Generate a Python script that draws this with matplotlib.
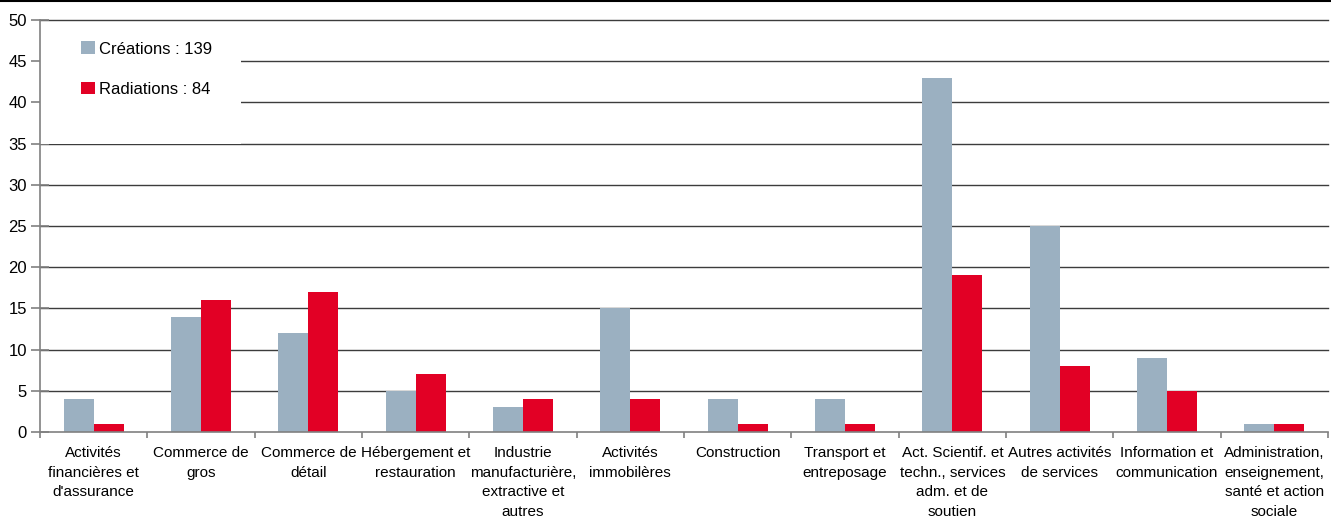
import numpy as np
import matplotlib
matplotlib.use('Agg')
import matplotlib.pyplot as plt
from matplotlib import rcParams
from matplotlib.patches import Rectangle
from matplotlib.lines import Line2D

rcParams['font.family'] = ['Liberation Sans', 'DejaVu Sans']
FS = 11
FS_LEG = 12

# DATA
categories = ["Activités\nfinancières et\nd'assurance",
              "Commerce de\ngros",
              "Commerce de\ndétail",
              "Hébergement et\nrestauration",
              "Industrie\nmanufacturière,\nextractive et\nautres",
              "Activités\nimmobilères",
              "Construction",
              "Transport et\nentreposage",
              "Act. Scientif. et\ntechn., services\nadm. et de\nsoutien",
              "Autres activités\nde services",
              "Information et\ncommunication",
              "Administration,\nenseignement,\nsanté et action\nsociale"]
creations = [4, 14, 12, 5, 3, 15, 4, 4, 43, 25, 9, 1]
radiations = [1, 16, 17, 7, 4, 4, 1, 1, 19, 8, 5, 1]
label_creations = 'Créations : 139'
label_radiations = 'Radiations : 84'

C_BLUE = '#9BB0C1'
C_RED = '#E20025'
GRID = '#3c3c3c'
SPINE = '#808080'

fig = plt.figure(figsize=(13.31, 5.17), dpi=100)
ax = fig.add_axes([40/1331, 85/517, 1288/1331, 412/517])

x = np.arange(len(categories))
w = 0.28
ax.bar(x - w/2, creations, w, color=C_BLUE, zorder=3, label=label_creations)
ax.bar(x + w/2, radiations, w, color=C_RED, zorder=3, label=label_radiations)

ax.set_xlim(-0.5, len(categories) - 0.5)
ax.set_ylim(0, 50)
ax.set_yticks(np.arange(0, 51, 5))

# gridlines
for v in np.arange(5, 51, 5):
    ax.axhline(v, color=GRID, lw=1, zorder=1, clip_on=False)

# white box behind legend
ax.add_patch(Rectangle((0, 0.70), 0.156, 0.29, transform=ax.transAxes,
                       facecolor='white', edgecolor='none', zorder=2))

for s in ['top', 'right']:
    ax.spines[s].set_visible(False)
for s in ['left', 'bottom']:
    ax.spines[s].set_color(SPINE)
    ax.spines[s].set_linewidth(1.2)
    ax.spines[s].set_zorder(4)

ax.set_xticks(x)
ax.set_xticklabels(categories, fontsize=FS, linespacing=1.52)
ax.set_xticks(np.arange(-0.5, len(categories), 1), minor=True)
ax.tick_params(axis='x', which='major', length=0, pad=10)
ax.tick_params(axis='x', which='minor', length=4, direction='out', color=SPINE, width=1.2)
ax.tick_params(axis='y', direction='inout', length=13, color=SPINE, width=1.2,
               labelsize=FS_LEG, pad=3)

leg = ax.legend(loc='upper left', bbox_to_anchor=(0.027, 0.964), frameon=False,
                fontsize=FS_LEG, handlelength=0.8, handleheight=0.8, handletextpad=0.25,
                labelspacing=1.5, borderaxespad=0)
leg.set_zorder(5)

# line at the very top of the figure
fig.add_artist(Line2D([0, 1], [0.999, 0.999], transform=fig.transFigure,
                      color='black', lw=1.5))

plt.savefig('out.png', dpi=100)
